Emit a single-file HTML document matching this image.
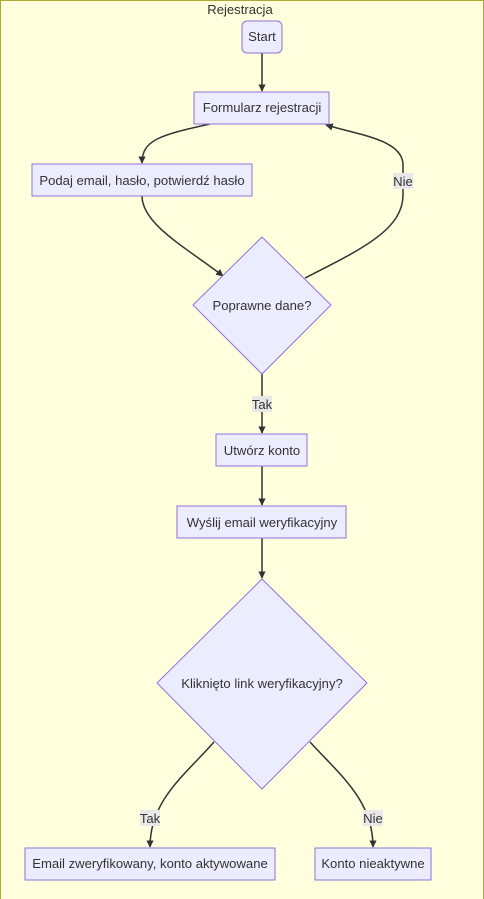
<!DOCTYPE html>
<html><head><meta charset="utf-8"><style>
html,body{margin:0;padding:0;background:#fff;}
svg{display:block;}
text{font-family:"Liberation Sans","DejaVu Sans",sans-serif;font-size:13.1px;fill:#333;}
.n{fill:#ececff;stroke:#9370db;stroke-width:1;}
.e{fill:none;stroke:#333;stroke-width:1.5;}
.lb{fill:#e8e8e8;}
</style></head><body>
<svg width="484" height="899" viewBox="0 0 484 899" xmlns="http://www.w3.org/2000/svg">
<defs><marker id="a" viewBox="0 0 10 10" refX="9" refY="5" markerWidth="5" markerHeight="5" orient="auto"><path d="M0,0L10,5L0,10z" fill="#333"/></marker></defs>
<rect x="0.5" y="0.5" width="483" height="910" fill="#ffffde" stroke="#aaaa33"/>
<text x="240" y="14" text-anchor="middle">Rejestracja</text>
<path class="e" d="M262,53 L262,91" marker-end="url(#a)"/>
<path class="e" d="M210,124 C160,135 142,140 142,163" marker-end="url(#a)"/>
<path class="e" d="M142,196 C142,225 190,250 223,276" marker-end="url(#a)"/>
<path class="e" d="M305,278 C360,250 403,230 403,195 L403,165 C403,140 360,135 326,125" marker-end="url(#a)"/>
<path class="e" d="M262,374 L262,433" marker-end="url(#a)"/>
<path class="e" d="M262,466 L262,505" marker-end="url(#a)"/>
<path class="e" d="M262,538 L262,578" marker-end="url(#a)"/>
<path class="e" d="M214,742 C185,775 150,800 150,847" marker-end="url(#a)"/>
<path class="e" d="M310,742 C340,775 373,800 373,847" marker-end="url(#a)"/>
<rect class="n" x="242" y="21" width="40" height="32" rx="5"/>
<text x="262" y="41" text-anchor="middle">Start</text>
<rect class="n" x="194" y="92" width="135" height="32"/>
<text x="262" y="112" text-anchor="middle">Formularz rejestracji</text>
<rect class="n" x="32" y="164" width="220" height="32"/>
<text x="142" y="185" text-anchor="middle">Podaj email, hasło, potwierdź hasło</text>
<polygon class="n" points="262,237 331,305 262,374 193,305"/>
<text x="262" y="310" text-anchor="middle">Poprawne dane?</text>
<rect class="n" x="216" y="434" width="91" height="32"/>
<text x="262" y="455" text-anchor="middle">Utwórz konto</text>
<rect class="n" x="177" y="506" width="169" height="32"/>
<text x="262" y="527" text-anchor="middle">Wyślij email weryfikacyjny</text>
<polygon class="n" points="262,579 367,683 262,789 157,683"/>
<text x="262" y="688" text-anchor="middle">Kliknięto link weryfikacyjny?</text>
<rect class="n" x="25" y="848" width="250" height="32"/>
<text x="150" y="868" text-anchor="middle">Email zweryfikowany, konto aktywowane</text>
<rect class="n" x="315" y="848" width="116" height="32"/>
<text x="373" y="868" text-anchor="middle">Konto nieaktywne</text>
<rect class="lb" x="393" y="173" width="20" height="16"/><text x="403" y="186" text-anchor="middle">Nie</text>
<rect class="lb" x="252" y="396" width="20" height="16"/><text x="262" y="409" text-anchor="middle">Tak</text>
<rect class="lb" x="140" y="810" width="20" height="16"/><text x="150" y="823" text-anchor="middle">Tak</text>
<rect class="lb" x="363" y="810" width="20" height="16"/><text x="373" y="823" text-anchor="middle">Nie</text>
</svg>
</body></html>
